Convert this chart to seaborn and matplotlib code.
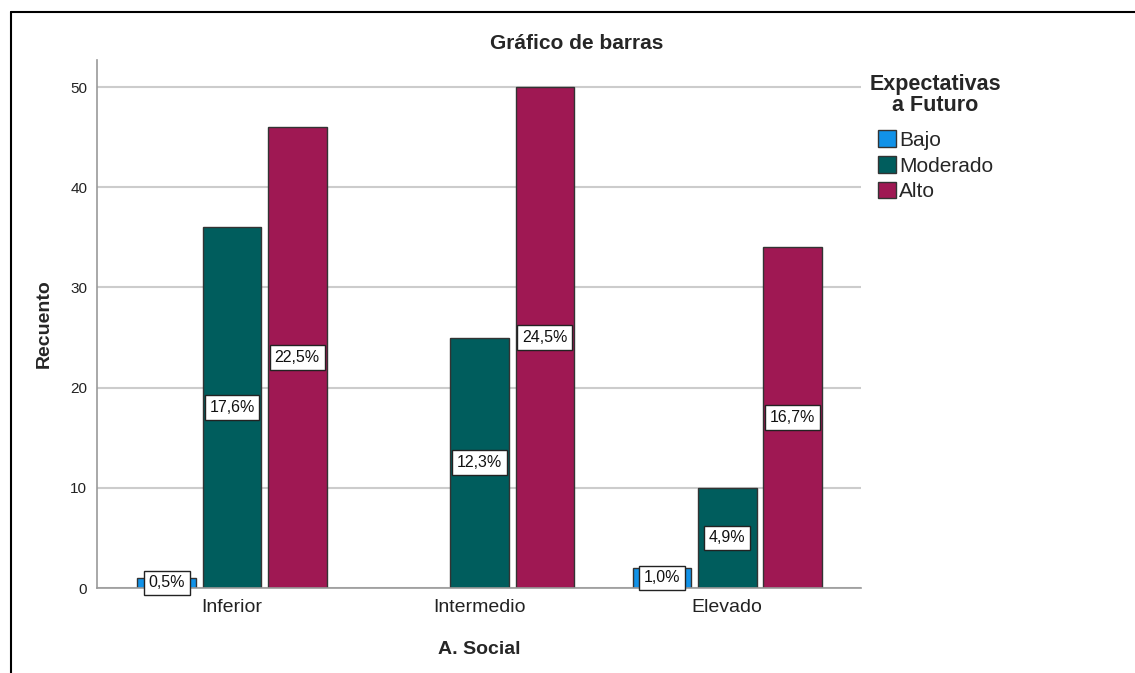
import matplotlib
matplotlib.use('Agg')
import matplotlib.pyplot as plt
import seaborn as sns
import pandas as pd
from matplotlib.lines import Line2D

# ── datos ───────────────────────────────────────────
social = ['Inferior', 'Intermedio', 'Elevado']
niveles = ['Bajo', 'Moderado', 'Alto']
bajo = [1, 0, 2]
moderado = [36, 25, 10]
alto = [46, 50, 34]
pct_bajo = ['0,5%', '', '1,0%']
pct_moderado = ['17,6%', '12,3%', '4,9%']
pct_alto = ['22,5%', '24,5%', '16,7%']
colores = ['#1192e8', '#005d5d', '#9f1853']
yticks = [0, 10, 20, 30, 40, 50]

df = pd.DataFrame({
    'A. Social': social * 3,
    'Expectativas': [n for n in niveles for _ in social],
    'Recuento': bajo + moderado + alto,
})

sns.set_theme(style='white')
plt.rcParams['font.family'] = ['Liberation Sans', 'DejaVu Sans']

fig = plt.figure(figsize=(11.35, 6.73), dpi=100)
ax = fig.add_axes([0.0855, 0.1263, 0.6731, 0.7845])

ax.yaxis.grid(True, color='#cccccc', linewidth=1.5, zorder=0)
ax.set_axisbelow(True)

sns.barplot(data=df, x='A. Social', y='Recuento', hue='Expectativas',
            order=social, hue_order=niveles, palette=colores, saturation=1,
            width=0.79, gap=0.1, edgecolor='#333333', linewidth=1, ax=ax)

for cont, labs in zip(ax.containers, [pct_bajo, pct_moderado, pct_alto]):
    for p in cont:
        if p.get_height() == 0:
            p.set_linewidth(0)
    ax.bar_label(cont, labels=labs, label_type='center', fontsize=11.5,
                 color='#111111',
                 bbox=dict(boxstyle='square,pad=0.3', fc='white', ec='#222222', lw=1))

ax.set_xlim(-0.545, 2.54)
ax.set_ylim(0, 52.7)
ax.set_yticks(yticks)
ax.tick_params(axis='y', length=0, pad=7, labelsize=11, labelcolor='#222222')
ax.tick_params(axis='x', length=0, pad=8, labelsize=14, labelcolor='#222222')

for s in ['top', 'right']:
    ax.spines[s].set_visible(False)
for s in ['left', 'bottom']:
    ax.spines[s].set_color('#999999')
    ax.spines[s].set_linewidth(1.2)

ax.set_xlabel('A. Social', fontsize=14, fontweight='bold', labelpad=18)
ax.set_ylabel('Recuento', fontsize=14, fontweight='bold', labelpad=13)
fig.text(0.508, 0.936, 'Gráfico de barras', ha='center', va='center',
         fontsize=15, fontweight='bold')

sns.move_legend(ax, 'upper left', bbox_to_anchor=(0.757, 0.905),
                bbox_transform=fig.transFigure, title='Expectativas\na Futuro',
                frameon=False, fontsize=15, title_fontsize=15.5, borderpad=0,
                handlelength=0.85, handleheight=0.85, handletextpad=0.15,
                labelspacing=0.3, alignment='center')
leg = ax.get_legend()
leg.get_title().set_fontweight('bold')
leg.get_title().set_multialignment('center')
leg.get_title().set_linespacing(1.0)
leg._legend_box.sep = 10  # mas aire entre titulo y entradas
for h in leg.legend_handles:
    h.set_edgecolor('#333333')

# marco exterior
fig.add_artist(Line2D([11 / 1135, 11 / 1135], [0, 1 - 12 / 673],
                      transform=fig.transFigure, color='black', lw=1.5))
fig.add_artist(Line2D([11 / 1135, 1], [1 - 12 / 673, 1 - 12 / 673],
                      transform=fig.transFigure, color='black', lw=1.5))

fig.savefig('out.png', dpi=100)
